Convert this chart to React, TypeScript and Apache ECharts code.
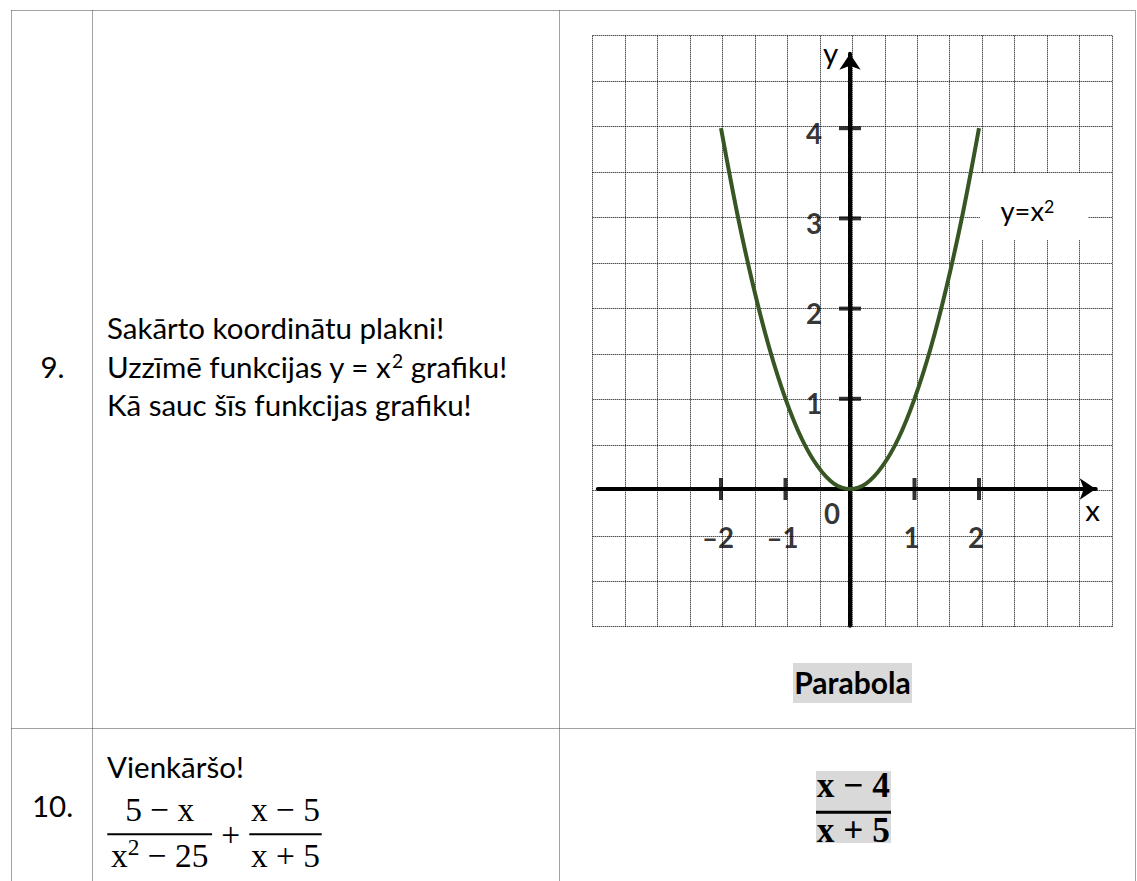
import React, { useEffect, useRef } from 'react';
import * as echarts from 'echarts';

// ---------- data ----------
const xTickValues = [-2, -1, 1, 2];
const xTickLabels = ['–2', '–1', '1', '2'];
const yTickValues = [1, 2, 3, 4];
const yTickLabels = ['1', '2', '3', '4'];
const originLabel = '0';
const parabolaX = [-2, -1.75, -1.5, -1.25, -1, -0.75, -0.5, -0.25, 0, 0.25, 0.5, 0.75, 1, 1.25, 1.5, 1.75, 2];
const parabolaY = [4, 3.06, 2.25, 1.56, 1, 0.56, 0.25, 0.06, 0, 0.06, 0.25, 0.56, 1, 1.56, 2.25, 3.06, 4];
const curveLabel = 'y=x²';
const axisNames = ['x', 'y'];
const rowNumbers = ['9.', '10.'];
const task9Lines = ['Sakārto koordinātu plakni!', 'Uzzīmē funkcijas y = x² grafiku!', 'Kā sauc šīs funkcijas grafiku!'];
const answer9 = 'Parabola';
const task10Title = 'Vienkāršo!';
const task10Numerators = ['5 − x', 'x − 5'];
const task10Denominators = ['x² − 25', 'x + 5'];
const task10Operator = '+';
const answer10 = ['x − 4', 'x + 5'];

// ---------- styling / layout ----------
const SANS_NAME = 'Lato';
const SERIF_NAME = 'Liberation Serif';
const SANS = 'Lato, "Open Sans", sans-serif';
const SERIF = '"Liberation Serif", "DejaVu Serif", serif';
const SANS_MID = 0.387; // central baseline above alphabetic, in em
const SERIF_MID = 0.3375;
const GREEN = '#375623';
const GREY = '#d9d9d9';
const BORDER = '#444';

const X_MIN = -3.91, X_MAX = 3.81, Y_MIN = -1.515, Y_MAX = 4.826;
const UX = 64.5, UY = 90.2, OX = 850, OY = 489;

let measureCtx: CanvasRenderingContext2D | null = null;
function measure(t: string, family: string, weight: string, size: number) {
  try {
    if (!measureCtx) measureCtx = document.createElement('canvas').getContext('2d');
    if (!measureCtx) return t.length * size * 0.5;
    measureCtx.font = `${weight} ${size}px "${family}"`;
    return measureCtx.measureText(t).width || t.length * size * 0.5;
  } catch (e) {
    return t.length * size * 0.5;
  }
}
function fit(t: string, family: string, weight: string, target: number) {
  const w = measure(t.replace(/²/g, ''), family, weight, 100);
  return Math.round(((100 * target) / w) * 10) / 10;
}

function text(x: number, y: number, t: string, size: number, opts: any = {}) {
  const align = opts.align || 'left';
  return {
    type: 'text',
    x,
    y,
    z: 20,
    silent: true,
    style: {
      text: t,
      fontSize: size,
      fontFamily: opts.family || SANS,
      fontWeight: opts.weight || 'normal',
      fill: '#000',
      align,
      textAlign: align,
      verticalAlign: 'middle',
      textVerticalAlign: 'middle',
    },
  };
}

// text with real superscripts: every "²" becomes a raised, smaller "2"
function supText(
  x: number,
  baseline: number,
  t: string,
  size: number,
  o: { serif?: boolean; weight?: string; center?: boolean; supScale?: number; raise?: number } = {}
) {
  const famName = o.serif ? SERIF_NAME : SANS_NAME;
  const fam = o.serif ? SERIF : SANS;
  const mid = o.serif ? SERIF_MID : SANS_MID;
  const weight = o.weight || 'normal';
  const supSize = size * (o.supScale || 0.65);
  const raise = size * (o.raise || 0.32);
  const pieces: { s: string; sup: boolean }[] = [];
  t.split('²').forEach((p, i, arr) => {
    if (p) pieces.push({ s: p, sup: false });
    if (i < arr.length - 1) pieces.push({ s: '2', sup: true });
  });
  const widths = pieces.map((p) => measure(p.s, famName, weight, p.sup ? supSize : size));
  const total = widths.reduce((a, b) => a + b, 0);
  let cx = o.center ? x - total / 2 : x;
  const out: any[] = [];
  pieces.forEach((p, i) => {
    const s = p.sup ? supSize : size;
    const b = p.sup ? baseline - raise : baseline;
    out.push(text(cx, b - mid * s, p.s, s, { family: fam, weight }));
    cx += widths[i];
  });
  return out;
}

function line(x1: number, y1: number, x2: number, y2: number, w: number, dotted: boolean, color = '#000') {
  return {
    type: 'line',
    z: 20,
    silent: true,
    shape: { x1, y1, x2, y2 },
    style: { stroke: color, lineWidth: w, lineDash: dotted ? [1, 1] : null },
  };
}
function rect(x: number, y: number, w: number, h: number, fill: string, z = 15) {
  return { type: 'rect', z, silent: true, shape: { x, y, width: w, height: h }, style: { fill } };
}

function buildOption() {
  const sQ = fit(task9Lines[2], SANS_NAME, 'normal', 364);
  const sBold = fit(answer9, SANS_NAME, 'bold', 116.4);
  const sTick = fit(xTickLabels[0], SANS_NAME, 'bold', 32);
  const sMath = fit(task10Numerators[0], SERIF_NAME, 'normal', 69);
  const sAns = fit(answer10[0], SERIF_NAME, 'bold', 73);
  const sLabel = fit('y=x', SANS_NAME, 'normal', 43.5);

  const graphics: any[] = [];
  // table borders
  graphics.push(line(11.5, 10.5, 1135.5, 10.5, 1, true, BORDER));
  graphics.push(line(11.5, 728.5, 1135.5, 728.5, 1, true, BORDER));
  [11.5, 92.5, 559.5, 1135.5].forEach((x) => graphics.push(line(x, 10.5, x, 881, 1, true, BORDER)));

  // row 9
  const q9Base = [339, 377.5, 416];
  graphics.push(...supText(52.5, q9Base[1], rowNumbers[0], sQ, { center: true }));
  task9Lines.forEach((l, i) => graphics.push(...supText(107, q9Base[i], l, sQ)));
  graphics.push(rect(793, 663, 119, 40, GREY));
  graphics.push(...supText(852.5, 693.7, answer9, sBold, { center: true, weight: 'bold' }));

  // curve label box
  graphics.push(rect(980, 173, 108, 67, '#fff', 5));
  graphics.push(...supText(1000.5, 221.5, curveLabel, sLabel));
  // axis names
  graphics.push(...supText(1092.6, 521, axisNames[0], sQ, { center: true }));
  graphics.push(...supText(830.7, 63.5, axisNames[1], sQ, { center: true }));

  // row 10
  graphics.push(...supText(52.5, 817.3, rowNumbers[1], sQ, { center: true }));
  graphics.push(...supText(107, 778.3, task10Title, sQ));
  const fracCenters = [159.7, 285.5];
  const fracHalf = [52.4, 36.2];
  fracCenters.forEach((cx, i) => {
    graphics.push(...supText(cx, 820.7, task10Numerators[i], sMath, { center: true, serif: true }));
    graphics.push(line(cx - fracHalf[i], 834.3, cx + fracHalf[i], 834.3, 2, false));
    graphics.push(
      ...supText(cx, 866.7, task10Denominators[i], sMath, { center: true, serif: true, supScale: 0.7, raise: 0.36 })
    );
  });
  graphics.push(...supText(230.7, 837 + 0.25 * sMath, task10Operator, sMath, { center: true, serif: true }));

  // answer 10
  graphics.push(rect(816, 771, 75, 72, GREY));
  graphics.push(...supText(853.3, 797.3, answer10[0], sAns, { center: true, serif: true, weight: 'bold' }));
  graphics.push(line(816, 812.3, 891, 812.3, 3, false));
  graphics.push(...supText(853.3, 842.3, answer10[1], sAns, { center: true, serif: true, weight: 'bold' }));

  const dotted = { color: '#000', width: 1, type: [1, 1] };
  const tickLabel = { fontFamily: SANS, fontWeight: 'bold', fontSize: sTick, color: '#000' };

  return {
    animation: false,
    backgroundColor: '#fff',
    grid: [
      { left: 592.7, top: 35.7, width: 519.3, height: 591, outerBoundsMode: 'none', containLabel: false },
      {
        left: OX + X_MIN * UX,
        top: OY - Y_MAX * UY,
        width: (X_MAX - X_MIN) * UX,
        height: (Y_MAX - Y_MIN) * UY,
        outerBoundsMode: 'none',
        containLabel: false,
      },
    ],
    xAxis: [
      {
        gridIndex: 0, type: 'value', min: 0, max: 16, interval: 1,
        axisLine: { show: false }, axisTick: { show: false }, axisLabel: { show: false },
        splitLine: { show: true, lineStyle: dotted },
      },
      {
        gridIndex: 1, type: 'value', min: X_MIN, max: X_MAX,
        axisLine: {
          show: true, onZero: true, symbol: ['none', 'arrow'], symbolSize: [16, 16],
          lineStyle: { color: '#000', width: 4 },
        },
        axisTick: { show: false }, axisLabel: { show: false }, splitLine: { show: false },
      },
    ],
    yAxis: [
      {
        gridIndex: 0, type: 'value', min: 0, max: 13, interval: 1,
        axisLine: { show: false }, axisTick: { show: false }, axisLabel: { show: false },
        splitLine: { show: true, lineStyle: dotted },
      },
      {
        gridIndex: 1, type: 'value', min: Y_MIN, max: Y_MAX,
        axisLine: {
          show: true, onZero: true, symbol: ['none', 'arrow'], symbolSize: [16, 16],
          lineStyle: { color: '#000', width: 4 },
        },
        axisTick: { show: false }, axisLabel: { show: false }, splitLine: { show: false },
      },
    ],
    series: [
      {
        type: 'line',
        name: curveLabel,
        xAxisIndex: 1,
        yAxisIndex: 1,
        data: parabolaX.map((x, i) => [x, parabolaY[i]]),
        smooth: 0.35,
        showSymbol: false,
        symbol: 'none',
        silent: true,
        z: 4,
        lineStyle: { color: GREEN, width: 4 },
      },
      {
        type: 'scatter',
        xAxisIndex: 1,
        yAxisIndex: 1,
        silent: true,
        z: 3,
        symbol: 'rect',
        symbolSize: [4, 22],
        itemStyle: { color: '#000' },
        data: xTickValues.map((v, i) => ({ value: [v, 0], label: { formatter: xTickLabels[i] } })),
        label: { show: true, position: 'inside', offset: [-3, 48], ...tickLabel },
      },
      {
        type: 'scatter',
        xAxisIndex: 1,
        yAxisIndex: 1,
        silent: true,
        z: 3,
        symbol: 'rect',
        symbolSize: [22, 4],
        itemStyle: { color: '#000' },
        data: yTickValues.map((v, i) => ({ value: [0, v], label: { formatter: yTickLabels[i] } })),
        label: { show: true, position: 'inside', offset: [-36, 5], ...tickLabel },
      },
      {
        type: 'scatter',
        xAxisIndex: 1,
        yAxisIndex: 1,
        silent: true,
        z: 3,
        symbol: 'circle',
        symbolSize: 0.1,
        itemStyle: { color: 'rgba(0,0,0,0)' },
        data: [{ value: [0, 0], label: { formatter: originLabel } }],
        label: { show: true, position: 'inside', offset: [-18, 24], ...tickLabel },
      },
    ],
    graphic: graphics,
  };
}

export default function App() {
  const ref = useRef<HTMLDivElement>(null);
  useEffect(() => {
    if (!ref.current) return;
    const chart = echarts.init(ref.current, null, { renderer: 'svg' });
    chart.setOption(buildOption() as any);
    return () => chart.dispose();
  }, []);
  return (
    <div
      ref={ref}
      style={{ position: 'fixed', left: 0, top: 0, width: 1137, height: 881, background: '#fff' }}
    />
  );
}
